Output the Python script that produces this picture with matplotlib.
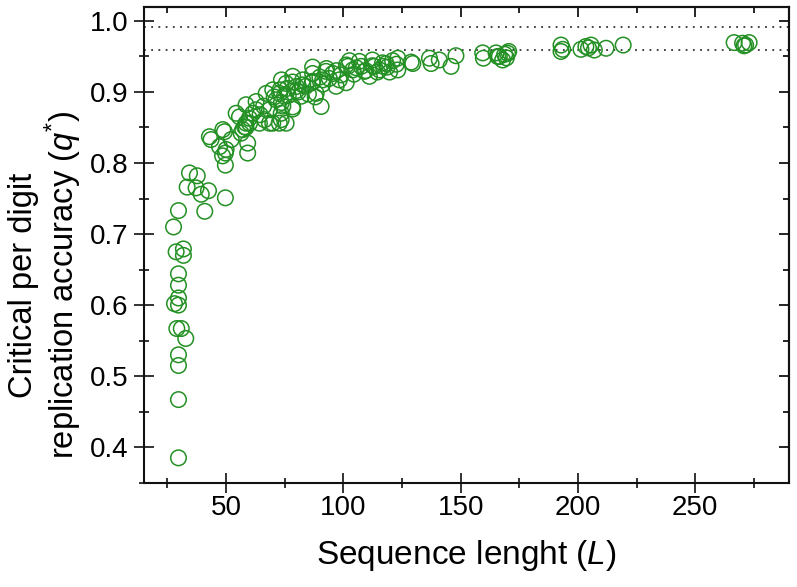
import matplotlib
matplotlib.use("Agg")
import matplotlib.pyplot as plt
from matplotlib.ticker import MultipleLocator

plt.rcParams['font.family'] = ['Liberation Sans', 'DejaVu Sans']
plt.rcParams['mathtext.fontset'] = 'custom'
plt.rcParams['mathtext.rm'] = 'Liberation Sans'
plt.rcParams['mathtext.it'] = 'Liberation Sans:italic'

# Sequence length L
L = [29.7, 29.7, 29.7, 29.7, 32.8, 30.9, 29.0, 29.7, 28.0, 29.7, 29.7, 29.7,
     31.8, 31.8, 28.7, 27.6, 29.7, 40.9, 49.7, 42.5, 39.4, 37.2, 33.4, 37.7,
     34.4, 49.7, 49.7, 59.2,
     129.6, 136.7, 137.4, 140.9, 145.9, 148.0, 159.4, 159.7, 165.1, 165.8,
     167.9, 170.0, 169.5, 192.8, 192.8, 201.3, 203.4, 205.6, 207.0, 212.0,
     219.3, 266.6, 270.2, 270.8, 273.0,
     128.9, 123.2, 123.2, 118.2, 118.7, 113.2, 111.1, 107.6, 104.0, 104.5,
     101.9, 98.3, 95.5, 92.6, 91.2, 90.5, 86.9, 86.7, 82.7, 79.9, 78.4, 75.6,
     74.9, 78.4, 73.5, 82.0, 88.4,
     69.9, 71.3, 68.5, 73.5, 69.9, 62.8, 58.5, 54.3, 61.4, 58.5, 57.1, 48.6,
     42.9, 43.6, 49.3, 52.2, 50.0, 59.2, 56.4, 58.5, 60.0, 68.5, 72.7,
     86.9, 92.8, 97.0, 101.3, 105.5, 109.0, 112.4, 115.4, 119.7, 122.6,
     102.6, 106.8, 112.4, 116.7, 121.0,
     73.6, 78.4, 82.7, 87.0, 91.2, 96.9, 101.2,
     73.0, 76.5, 80.8, 85.1, 88.0, 73.6, 78.4,
     67.1, 72.8, 74.2, 66.4, 75.6, 55.7, 59.9, 57.9, 62.8, 64.2,
     47.2, 48.5, 166.5, 168.8, 170.5, 193.5, 204.5, 271.5,
     64.5, 66.0, 70.5, 76.0, 80.0, 84.0, 90.0, 94.0, 99.0, 109.5, 114.5, 117.0]

# Critical per digit replication accuracy q*
Q = [0.385, 0.467, 0.515, 0.530, 0.553, 0.567, 0.567, 0.600, 0.602, 0.610, 0.628, 0.644,
     0.670, 0.679, 0.675, 0.710, 0.733, 0.732, 0.751, 0.761, 0.756, 0.765, 0.766, 0.782,
     0.786, 0.797, 0.814, 0.814,
     0.940, 0.9475, 0.940, 0.945, 0.936, 0.951, 0.955, 0.9475, 0.955, 0.950,
     0.945, 0.9545, 0.948, 0.966, 0.957, 0.960, 0.964, 0.966, 0.959, 0.9615,
     0.966, 0.9695, 0.9686, 0.965, 0.9695,
     0.942, 0.9475, 0.931, 0.940, 0.935, 0.936, 0.922, 0.936, 0.931, 0.925,
     0.936, 0.917, 0.926, 0.929, 0.917, 0.8795, 0.926, 0.913, 0.917, 0.9076, 0.922, 0.912,
     0.894, 0.879, 0.861, 0.894, 0.898,
     0.903, 0.889, 0.875, 0.870, 0.856, 0.8865, 0.882, 0.870, 0.870, 0.856, 0.847, 0.847,
     0.837, 0.833, 0.844, 0.833, 0.819, 0.828, 0.842, 0.850, 0.856, 0.856, 0.856,
     0.935, 0.933, 0.930, 0.938, 0.934, 0.929, 0.937, 0.931, 0.928, 0.939,
     0.944, 0.943, 0.945, 0.941, 0.944,
     0.917, 0.914, 0.910, 0.915, 0.911, 0.908, 0.913,
     0.903, 0.895, 0.900, 0.897, 0.893, 0.885, 0.876,
     0.898, 0.898, 0.880, 0.861, 0.856, 0.865, 0.863, 0.851, 0.875, 0.856,
     0.823, 0.810, 0.950, 0.953, 0.957, 0.960, 0.962, 0.966,
     0.868, 0.880, 0.893, 0.905, 0.902, 0.908, 0.921, 0.919, 0.924, 0.930, 0.928, 0.936]

hlines = [0.992, 0.959]
xticks = [50, 100, 150, 200, 250]
yticks = [0.4, 0.5, 0.6, 0.7, 0.8, 0.9, 1.0]

fig = plt.figure(figsize=(7.97, 5.87), dpi=100)
ax = fig.add_axes([144/797, 1-482.7/587, (789-144)/797, (482.7-6.7)/587])

green = '#239023'
ax.scatter(L, Q, s=125, facecolors='none', edgecolors=green, linewidths=1.1, zorder=3)
for h in hlines:
    ax.axhline(h, color='#333333', linestyle=(0, (1, 3)), linewidth=1.3, zorder=2)

ax.set_xlim(15, 290)
ax.set_ylim(0.35, 1.02)
ax.set_xticks(xticks)
ax.set_yticks(yticks)
ax.set_yticklabels([f"{v:.1f}" for v in yticks])
ax.xaxis.set_minor_locator(MultipleLocator(25))
ax.yaxis.set_minor_locator(MultipleLocator(0.05))
ax.tick_params(which='major', direction='inout', length=14, width=1.2, labelsize=20, color='#111111')
ax.tick_params(which='minor', direction='inout', length=7, width=1.2, color='#111111')
ax.tick_params(axis='y', pad=4)
ax.tick_params(axis='x', pad=2)
for sp in ax.spines.values():
    sp.set_linewidth(1.5)
    sp.set_color('#111111')

top = ax.secondary_xaxis('top')
top.set_xticks(xticks)
top.set_xticks([25, 75, 125, 175, 225, 275], minor=True)
top.tick_params(which='major', direction='in', length=7, width=1.2, labeltop=False)
top.tick_params(which='minor', direction='in', length=4, width=1.2)
top.spines['top'].set_linewidth(1.5)
right = ax.secondary_yaxis('right')
right.set_yticks(yticks)
right.set_yticks([0.45, 0.55, 0.65, 0.75, 0.85, 0.95], minor=True)
right.tick_params(which='major', direction='in', length=7, width=1.2, labelright=False)
right.tick_params(which='minor', direction='in', length=4, width=1.2)
right.spines['right'].set_linewidth(1.5)

ax.set_xlabel('Sequence lenght ($L$)', fontsize=24, labelpad=12)
ax.set_ylabel('Critical per digit\nreplication accuracy ($q^{*}$)', fontsize=23.5,
              linespacing=1.12)
ax.yaxis.set_label_coords(-0.093, 0.415)

fig.savefig('out.png', dpi=100)
